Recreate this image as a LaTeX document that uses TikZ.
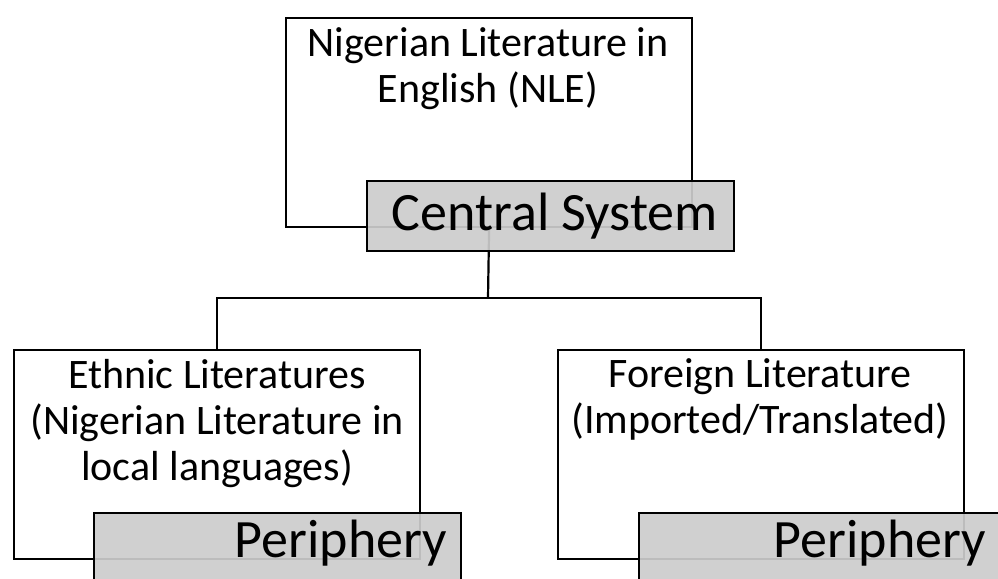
\documentclass[tikz,border=0pt]{standalone}
\usepackage{fontspec}
\setmainfont{Carlito}
\definecolor{graybox}{RGB}{204,204,204}
\begin{document}
\begin{tikzpicture}[x=1pt,y=-1pt,
  boxw/.style={draw=black, line width=2.2pt, fill=white, rectangle, inner sep=0pt, anchor=north west},
  boxg/.style={draw=black, line width=2.2pt, fill=graybox, fill opacity=0.92, rectangle, inner sep=0pt, anchor=north west},
  conn/.style={draw=black, line width=2.2pt},
  smalltxt/.style={font=\fontsize{42}{46}\selectfont, align=center, inner sep=0pt, anchor=base},
  bigtxt/.style={font=\fontsize{54}{60}\selectfont, inner sep=0pt, anchor=base east}]
\useasboundingbox (0,0) rectangle (998,578);
\clip (0,0) rectangle (998,578);
% white boxes
\node[boxw, minimum width=406pt, minimum height=209pt] (nle) at (285,17) {};
\node[boxw, minimum width=406pt, minimum height=209pt] (ethnic) at (13,349) {};
\node[boxw, minimum width=406pt, minimum height=209pt] (foreign) at (557,349) {};
% connectors
\coordinate (hub) at (488,298);
\draw[conn] (nle.south) -- (hub);
\draw[conn] (ethnic.north) |- (hub) -| (foreign.north);
% gray boxes
\node[boxg, minimum width=367pt, minimum height=70pt] (central) at (366,180) {};
\node[boxg, minimum width=367pt, minimum height=80pt] (perl) at (93,512) {};
\node[boxg, minimum width=367pt, minimum height=80pt] (perr) at (638,512) {};
% texts (anchor = baseline of the last line)
\node[smalltxt] (nletxt) at (488,102) {Nigerian Literature in\\English (NLE)};
\node[smalltxt] (ethtxt) at (217,480) {Ethnic Literatures\\(Nigerian Literature in\\local languages)};
\node[smalltxt] (fortxt) at (760,433) {Foreign Literature\\(Imported/Translated)};
\node[bigtxt] (centtxt) at (718,230) {Central System};
\node[bigtxt] (perltxt) at (447,557) {Periphery};
\node[bigtxt] (perrtxt) at (986,557) {Periphery};
\end{tikzpicture}
\end{document}
